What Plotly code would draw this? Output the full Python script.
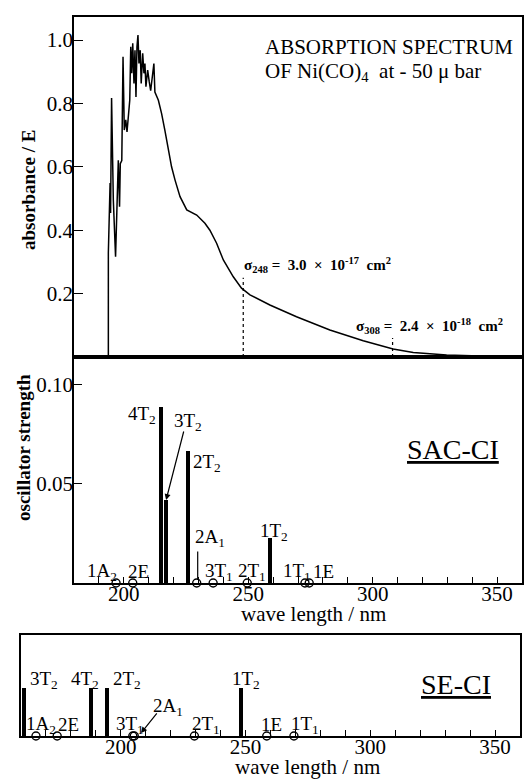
import plotly.graph_objects as go

# ---------------- data ----------------
# measured absorption spectrum of Ni(CO)4
spec_wl = [193.8, 193.8, 194.5, 194.7, 195.1, 195.8, 196.7, 197.3, 197.8, 198.3, 198.6, 199.2,
           199.7, 200.2, 200.8, 201.3, 201.8, 202.4, 202.8, 203.2, 203.6, 204.1, 204.5, 204.9,
           205.3, 205.7, 206.1, 206.6, 207.0, 207.6, 208.1, 208.5, 208.9, 209.6, 210.2, 210.8,
           212.1, 212.5, 213.9, 215.2, 216.5, 217.9, 219.2, 220.6, 222.6, 225.3, 229.3, 232.6,
           234.6, 237.3, 240.0, 244.0, 247.3, 250.7, 258.7, 269.4, 282.8, 296.2, 308.2, 316.3,
           329.7, 343.1, 356.3]
spec_abs = [0.0, 0.328, 0.549, 0.454, 0.817, 0.495, 0.316, 0.495, 0.621, 0.474, 0.61, 0.62,
            0.947, 0.716, 0.748, 0.71, 0.748, 0.81, 0.979, 0.895, 0.99, 0.863, 0.968, 0.82,
            0.979, 1.016, 0.926, 0.968, 0.863, 0.958, 0.895, 0.926, 0.853, 0.905, 0.87, 0.84,
            0.926, 0.836, 0.81, 0.768, 0.716, 0.653, 0.60, 0.558, 0.506, 0.464, 0.448, 0.422,
            0.40, 0.359, 0.306, 0.253, 0.217, 0.196, 0.164, 0.127, 0.085, 0.051, 0.025, 0.014,
            0.006, 0.003, 0.001]
sigma_wl = [248, 308]
sigma_top = [0.25, 0.06]
NB = "\u00a0"
sigma_text = ["σ<sub>248</sub>" + NB + "=" + NB + " 3.0" + NB + " ×" + NB + " 10<sup>-17</sup>" + NB + " cm<sup>2</sup>",
              "σ<sub>308</sub>" + NB + "=" + NB + " 2.4" + NB + " ×" + NB + " 10<sup>-18</sup>" + NB + " cm<sup>2</sup>"]

# SAC-CI: allowed (bars) and forbidden (circles)
sac_bar_states = ["4T2", "3T2", "2T2", "1T2"]
sac_bar_wl = [214.9, 217.0, 225.8, 258.9]
sac_bar_f = [0.0887, 0.0419, 0.0668, 0.0226]
sac_zero_states = ["1A2", "2E", "2A1", "3T1", "2T1", "1T1", "1E"]
sac_zero_wl = [196.9, 203.6, 229.3, 235.9, 249.6, 272.8, 274.5]

# SE-CI
se_bar_states = ["3T2", "4T2", "2T2", "1T2"]
se_bar_wl = [161.3, 188.1, 194.6, 248.0]
se_bar_h = [0.48, 0.48, 0.48, 0.48]
se_zero_states = ["1A2", "2E", "3T1", "2A1", "2T1", "1E", "1T1"]
se_zero_wl = [166.0, 174.5, 204.8, 205.4, 229.5, 258.5, 269.4]

FONT = "Liberation Serif"
W, H = 524, 779


def fmt(s):
    if len(s) == 3 and s[-1].isdigit():
        return s[:2] + "<sub>" + s[2] + "</sub>"
    return s


def px(v):
    return v / W


def py(v):
    return 1 - v / H


fig = go.Figure()

# top: spectrum
fig.add_trace(go.Scatter(x=spec_wl, y=spec_abs, mode="lines", xaxis="x", yaxis="y",
                         line=dict(color="black", width=1.5), showlegend=False))
for wl, top in zip(sigma_wl, sigma_top):
    fig.add_trace(go.Scatter(x=[wl, wl], y=[0, top], mode="lines", xaxis="x", yaxis="y",
                             line=dict(color="black", width=1.2, dash="3px,3px"), showlegend=False))

# middle: SAC-CI
fig.add_trace(go.Bar(x=sac_bar_wl, y=sac_bar_f, width=1.6, xaxis="x2", yaxis="y2",
                     marker=dict(color="black", line=dict(width=0)), showlegend=False))
fig.add_trace(go.Scatter(x=sac_zero_wl, y=[0] * len(sac_zero_wl), mode="markers", xaxis="x2", yaxis="y2",
                         marker=dict(symbol="circle-open", size=8, color="black", line=dict(width=1.4)),
                         cliponaxis=False, showlegend=False))

# bottom: SE-CI
fig.add_trace(go.Bar(x=se_bar_wl, y=se_bar_h, width=1.6, xaxis="x3", yaxis="y3",
                     marker=dict(color="black", line=dict(width=0)), showlegend=False))
fig.add_trace(go.Scatter(x=se_zero_wl, y=[0] * len(se_zero_wl), mode="markers", xaxis="x3", yaxis="y3",
                         marker=dict(symbol="circle-open", size=8, color="black", line=dict(width=1.4)),
                         cliponaxis=False, showlegend=False))

axis_common = dict(showline=True, linecolor="black", linewidth=1.5, mirror=True, showgrid=False,
                   zeroline=False, tickfont=dict(family=FONT, size=21, color="black"),
                   tickcolor="black", tickwidth=1.3)

xspec = dict(axis_common, ticks="inside", ticklen=6, tickmode="linear", tick0=200, dtick=50,
             ticklabelstandoff=-9,
             minor=dict(dtick=10, ticks="inside", ticklen=6, tickcolor="black", tickwidth=1.2, showgrid=False))

fig.update_layout(
    width=W, height=H, margin=dict(l=0, r=0, t=0, b=0),
    paper_bgcolor="white", plot_bgcolor="white", bargap=0,
    xaxis=dict(axis_common, domain=[px(74), px(522)], range=[180, 360], anchor="y",
               showticklabels=False, ticks=""),
    yaxis=dict(axis_common, domain=[py(357), py(17)], range=[0, 1.0726], anchor="x",
               tickvals=[0.2, 0.4, 0.6, 0.8, 1.0], ticktext=["0.2", "0.4", "0.6", "0.8", "1.0"],
               ticks="inside", ticklen=9, ticklabelstandoff=-5),
    xaxis2=dict(xspec, domain=[px(74), px(522)], range=[180, 360], anchor="y2"),
    yaxis2=dict(axis_common, domain=[py(583), py(357)], range=[0, 0.1141], anchor="x2",
                tickvals=[0.05, 0.10], ticktext=["0.05", "0.10"], ticks="inside", ticklen=8,
                ticklabelstandoff=-5),
    xaxis3=dict(xspec, domain=[px(21), px(520)], range=[160, 360], anchor="y3"),
    yaxis3=dict(axis_common, domain=[py(736), py(635)], range=[0, 1], anchor="x3",
                showticklabels=False, ticks=""),
)

ann = []
tf = dict(family=FONT, size=21, color="black")


def pa(text, x, y, font, **kw):
    d = dict(text=text, x=px(x), y=py(y), xref="paper", yref="paper", showarrow=False,
             xanchor="center", yanchor="middle", font=font)
    d.update(kw)
    return d


# axis titles
ann.append(pa("<b>absorbance / E</b>", 28, 190, dict(family=FONT, size=19, color="black"), textangle=-90))
ann.append(pa("<b>oscillator strength</b>", 23, 448, dict(family=FONT, size=19, color="black"), textangle=-90))
ann.append(pa("wave length / nm", 313, 614, tf))
ann.append(pa("wave length / nm", 307, 767, tf))
# top title
tt = dict(family=FONT, size=21, color="black")
ann.append(pa("ABSORPTION SPECTRUM", 263, 47, tt, xanchor="left"))
ann.append(pa("OF Ni(CO)<sub>4</sub>  at - 50 μ bar", 263, 72, tt, xanchor="left"))
# sigma annotations
for t, (xx, yy) in zip(sigma_text, [(277.8, 0.290), (323.0, 0.098)]):
    ann.append(dict(text="<b>" + t + "</b>", x=xx, y=yy, xref="x", yref="y", showarrow=False,
                    xanchor="center", yanchor="middle", font=dict(family=FONT, size=15, color="black")))
# method labels
ann.append(pa("<u>SAC-CI</u>", 453, 449, dict(family=FONT, size=28, color="black")))
ann.append(pa("<u>SE-CI</u>", 456, 684, dict(family=FONT, size=28, color="black")))

lf = dict(family=FONT, size=19, color="black")
sac_pos = {"4T2": (207.5, 0.0848), "3T2": (225.8, 0.0813), "2T2": (233.4, 0.0606), "1T2": (260.3, 0.0258),
           "2A1": (234.6, 0.0227), "1A2": (191.4, 0.0056), "2E": (205.9, 0.0056), "3T1": (238.2, 0.0056),
           "2T1": (251.5, 0.0056), "1T1": (269.4, 0.0056), "1E": (280.4, 0.0056)}
for s in sac_bar_states + sac_zero_states:
    xx, yy = sac_pos[s]
    ann.append(dict(text=fmt(s), x=xx, y=yy, xref="x2", yref="y2", showarrow=False,
                    xanchor="center", yanchor="middle", font=lf))
# arrows in SAC-CI panel
ann.append(dict(text="", x=sac_bar_wl[1], y=sac_bar_f[1], xref="x2", yref="y2", showarrow=True,
                ax=18, ay=-70, arrowhead=2, arrowsize=1, arrowwidth=1.2, arrowcolor="black"))
ann.append(dict(text="", x=sac_zero_wl[2] + 0.4, y=0.0015, xref="x2", yref="y2", showarrow=True,
                ax=0, ay=-30, arrowhead=0, arrowwidth=1.2, arrowcolor="black"))

se_pos = {"3T2": (169.2, 0.554), "4T2": (185.7, 0.554), "2T2": (202.5, 0.554), "1T2": (250.2, 0.554),
          "2A1": (219.1, 0.287), "1A2": (168.0, 0.109), "2E": (179.2, 0.109), "3T1": (203.7, 0.109),
          "2T1": (234.1, 0.109), "1E": (260.2, 0.109), "1T1": (273.8, 0.109)}
for s in se_bar_states + se_zero_states:
    xx, yy = se_pos[s]
    ann.append(dict(text=fmt(s), x=xx, y=yy, xref="x3", yref="y3", showarrow=False,
                    xanchor="center", yanchor="middle", font=lf))
ann.append(dict(text="", x=208.1, y=0.03, xref="x3", yref="y3", showarrow=True,
                ax=17, ay=-21, arrowhead=2, arrowsize=1, arrowwidth=1.2, arrowcolor="black"))

fig.update_layout(annotations=ann)
fig.write_html("out.html", config={"displayModeBar": False},
               post_script="document.body.style.margin='0';document.body.style.overflow='hidden';")
